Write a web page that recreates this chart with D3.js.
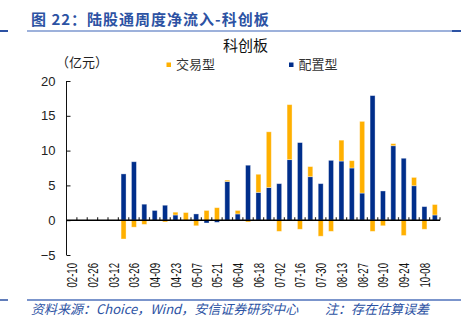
<!DOCTYPE html>
<html>
<head>
<meta charset="utf-8">
<script src="https://cdn.jsdelivr.net/npm/d3@7"></script>
<style>
  body { margin: 0; background: #fff; }
  svg { display: block; }
  .cjk { font-family: "Noto Sans CJK SC", "Noto Sans", sans-serif; }
  .num { font-family: "Liberation Sans", Arial, sans-serif; }
</style>
</head>
<body>
<div id="divChart"></div>
<script>
// semaines (vendredi) du 10 fevrier au 15 octobre
var dates = ["02-10","02-19","02-26","03-05","03-12","03-19","03-26","04-02","04-09","04-16",
             "04-23","04-30","05-07","05-14","05-21","05-28","06-04","06-11","06-18","06-25",
             "07-02","07-09","07-16","07-23","07-30","08-06","08-13","08-20","08-27","09-03",
             "09-10","09-17","09-24","09-30","10-08","10-15"];
// 交易型 (orange)
var tradeVals = [0,0,0,0,0,-2.7,-1.0,-0.6,0,-0.25,
                 0.4,1.1,-0.8,1.4,1.8,0.2,0.5,-0.25,2.6,8.0,
                 -1.6,7.9,-1.3,1.45,-2.3,-1.6,3.0,1.05,10.3,-1.6,
                 -0.8,0.3,-2.2,1.2,-1.3,1.5];
// 配置型 (bleu)
var configVals = [0,0,0,0,0,6.65,8.4,2.3,1.4,2.15,
                  0.75,0,0.9,-0.4,-0.3,5.55,0.9,7.9,4.0,4.7,
                  5.25,8.7,11.15,6.25,5.25,8.6,8.5,7.5,3.9,17.9,
                  4.2,10.7,8.9,4.95,1.95,0.75];
var tickLabels = ["02-10","02-26","03-12","03-26","04-09","04-23","05-07","05-21","06-04",
                  "06-18","07-02","07-16","07-30","08-13","08-27","09-10","09-24","10-08"];
var yTicks = [20, 15, 10, 5, 0, -5];
var seriesNames = ["交易型", "配置型"];

var colors = {trade: "#FFB000", config: "#002E8B"};
var blueText = "#2C52A3";

var W = 461, H = 328;
var svg = d3.select("#divChart").append("svg")
  .attr("width", W).attr("height", H);

// en-tete du rapport
svg.append("text").attr("class", "cjk")
  .attr("x", 31).attr("y", 25)
  .attr("fill", blueText).attr("font-weight", "bold")
  .attr("font-size", 15).attr("letter-spacing", 1)
  .text("图 22：陆股通周度净流入-科创板");
svg.append("line").attr("x1", 0).attr("x2", 8).attr("y1", 31).attr("y2", 31)
  .attr("stroke", blueText).attr("stroke-width", 2);
svg.append("line").attr("x1", 27).attr("x2", 452).attr("y1", 31).attr("y2", 31)
  .attr("stroke", "#7d97cf").attr("stroke-width", 1.5);
svg.append("line").attr("x1", 452).attr("x2", 461).attr("y1", 31).attr("y2", 31)
  .attr("stroke", blueText).attr("stroke-width", 2);

// titre du graphique
svg.append("text").attr("class", "cjk")
  .attr("x", 245.5).attr("y", 51).attr("text-anchor", "middle")
  .attr("font-size", 15).attr("fill", "#111")
  .text("科创板");

svg.append("text").attr("class", "cjk")
  .attr("x", 56).attr("y", 67).attr("font-size", 13).attr("fill", "#222")
  .text("（亿元）");

// legende
var legend = [
  {name: seriesNames[0], color: colors.trade, x: 166.5},
  {name: seriesNames[1], color: colors.config, x: 289}
];
legend.forEach(function(l){
  svg.append("rect").attr("x", l.x).attr("y", 62.5).attr("width", 4.5).attr("height", 4.5)
    .attr("fill", l.color);
  svg.append("text").attr("class", "cjk")
    .attr("x", l.x + 9.5).attr("y", 69).attr("font-size", 13).attr("fill", "#333")
    .text(l.name);
});

// echelles
var x = d3.scaleBand().domain(dates).range([66.5, 440]).paddingInner(0.52).paddingOuter(0.26);
var y = d3.scaleLinear().domain([-5, 20]).range([255, 81]);

var rows = dates.map(function(d, i){
  return {date: d, config: configVals[i], trade: tradeVals[i]};
});
var stacked = d3.stack().keys(["config", "trade"]).offset(d3.stackOffsetDiverging)(rows);

var g = svg.append("g");
g.selectAll("g.serie").data(stacked).enter().append("g")
  .attr("class", "serie")
  .attr("fill", function(s){ return colors[s.key]; })
  .selectAll("rect").data(function(s){ return s.filter(function(d){ return d[1] !== d[0]; }); })
  .enter().append("rect")
  .attr("x", function(d){ return x(d.data.date); })
  .attr("width", x.bandwidth())
  .attr("y", function(d){ return y(Math.max(d[0], d[1])); })
  .attr("height", function(d){ return Math.abs(y(d[0]) - y(d[1])); })
  .attr("stroke", "#fff").attr("stroke-opacity", 0.45).attr("stroke-width", 0.8);

// axe y
var yAxis = svg.append("g").attr("class", "num")
  .attr("transform", "translate(66.5,0)")
  .call(d3.axisLeft(y).tickValues(yTicks).tickSize(-4).tickPadding(11));
yAxis.select(".domain").attr("stroke", "#111").attr("d", "M0," + y(20) + "V" + y(-5));
yAxis.selectAll(".tick line").attr("stroke", "#111");
yAxis.selectAll(".tick text").attr("font-size", 13).attr("fill", "#222")
  .attr("font-family", "'Liberation Sans', Arial, sans-serif");

// axe x au niveau zero, petits traits entre les categories
var x0 = x.range()[0];
var boundaries = d3.range(1, dates.length + 1).map(function(i){ return x0 + i * x.step(); });
svg.append("g").selectAll("line").data(boundaries).enter().append("line")
  .attr("x1", function(d){ return d; }).attr("x2", function(d){ return d; })
  .attr("y1", y(0) - 3).attr("y2", y(0))
  .attr("stroke", "#333").attr("stroke-width", 1.2);
svg.append("line")
  .attr("x1", x0).attr("x2", x.range()[1])
  .attr("y1", y(0)).attr("y2", y(0))
  .attr("stroke", "#000").attr("stroke-width", 1.4);

// libelles des dates (verticaux, un sur deux)
svg.append("g").selectAll("text").data(tickLabels).enter().append("text")
  .attr("class", "num")
  .attr("transform", function(d){
    return "translate(" + (x(d) + x.bandwidth() / 2) + ",263) rotate(-90) scale(0.64,1)";
  })
  .attr("text-anchor", "end").attr("dy", "0.36em")
  .attr("font-size", 15).attr("fill", "#111")
  .text(function(d){ return d; });

// pied de page
svg.append("line").attr("x1", 0).attr("x2", 8).attr("y1", 300).attr("y2", 300)
  .attr("stroke", blueText).attr("stroke-width", 1.5);
svg.append("line").attr("x1", 27).attr("x2", 461).attr("y1", 300).attr("y2", 300)
  .attr("stroke", "#4f72bb").attr("stroke-width", 1.5);
svg.append("text").attr("class", "cjk")
  .attr("x", 31).attr("y", 314).attr("font-size", 13).attr("font-style", "italic")
  .attr("fill", blueText)
  .text("资料来源：Choice，Wind，安信证券研究中心");
svg.append("text").attr("class", "cjk")
  .attr("x", 325).attr("y", 314).attr("font-size", 13).attr("font-style", "italic")
  .attr("fill", blueText)
  .text("注：存在估算误差");
</script>
</body>
</html>
